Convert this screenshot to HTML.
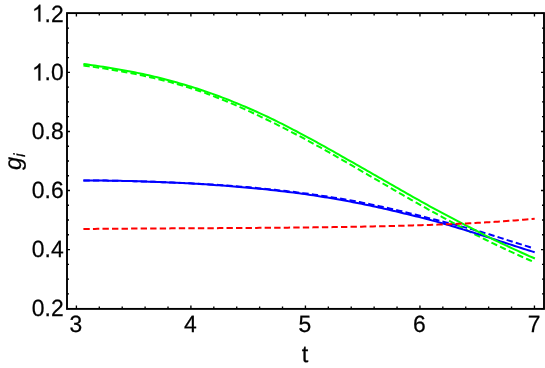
<!DOCTYPE html>
<html><head><meta charset="utf-8"><title>plot</title>
<style>
html,body{margin:0;padding:0;background:#fff;}
.lbl,.lbl text,.lbl tspan{font-family:"Liberation Sans",sans-serif;text-rendering:geometricPrecision;}
body{width:545px;height:368px;overflow:hidden;position:relative;font-family:"Liberation Sans",sans-serif;}
</style></head><body>
<svg width="545" height="368" viewBox="0 0 545 368" style="position:absolute;left:0;top:0">
<rect width="545" height="368" fill="#fff"/>
<g fill="none" stroke-width="2.0" stroke-linejoin="round">
<path d="M83.4,180.38 L86.2,180.40 L89.0,180.42 L91.9,180.44 L94.7,180.47 L97.5,180.50 L100.3,180.53 L103.1,180.57 L105.9,180.60 L108.8,180.65 L111.6,180.69 L114.4,180.75 L117.2,180.80 L120.0,180.86 L122.9,180.92 L125.7,180.98 L128.5,181.05 L131.3,181.12 L134.1,181.20 L136.9,181.27 L139.8,181.36 L142.6,181.44 L145.4,181.53 L148.2,181.63 L151.0,181.72 L153.9,181.82 L156.7,181.92 L159.5,182.03 L162.3,182.13 L165.1,182.23 L167.9,182.34 L170.8,182.45 L173.6,182.57 L176.4,182.69 L179.2,182.81 L182.0,182.93 L184.9,183.06 L187.7,183.19 L190.5,183.33 L193.3,183.47 L196.1,183.62 L198.9,183.77 L201.8,183.93 L204.6,184.10 L207.4,184.26 L210.2,184.44 L213.0,184.61 L215.9,184.79 L218.7,184.98 L221.5,185.17 L224.3,185.37 L227.1,185.57 L229.9,185.77 L232.8,185.98 L235.6,186.20 L238.4,186.42 L241.2,186.65 L244.0,186.88 L246.9,187.12 L249.7,187.36 L252.5,187.61 L255.3,187.87 L258.1,188.13 L260.9,188.40 L263.8,188.67 L266.6,188.95 L269.4,189.23 L272.2,189.52 L275.0,189.82 L277.9,190.12 L280.7,190.43 L283.5,190.75 L286.3,191.07 L289.1,191.40 L291.9,191.73 L294.8,192.08 L297.6,192.43 L300.4,192.78 L303.2,193.15 L306.0,193.52 L308.9,193.90 L311.7,194.28 L314.5,194.68 L317.3,195.08 L320.1,195.48 L323.0,195.90 L325.8,196.32 L328.6,196.74 L331.4,197.18 L334.2,197.62 L337.0,198.07 L339.9,198.53 L342.7,199.01 L345.5,199.49 L348.3,199.99 L351.1,200.50 L354.0,201.02 L356.8,201.55 L359.6,202.09 L362.4,202.65 L365.2,203.21 L368.0,203.78 L370.9,204.36 L373.7,204.95 L376.5,205.55 L379.3,206.16 L382.1,206.78 L385.0,207.41 L387.8,208.04 L390.6,208.69 L393.4,209.34 L396.2,209.99 L399.0,210.66 L401.9,211.33 L404.7,212.02 L407.5,212.71 L410.3,213.40 L413.1,214.09 L416.0,214.79 L418.8,215.50 L421.6,216.21 L424.4,216.92 L427.2,217.64 L430.0,218.36 L432.9,219.09 L435.7,219.82 L438.5,220.55 L441.3,221.25 L444.1,221.95 L447.0,222.65 L449.8,223.37 L452.6,224.11 L455.4,224.85 L458.2,225.60 L461.0,226.35 L463.9,227.10 L466.7,227.86 L469.5,228.63 L472.3,229.41 L475.1,230.19 L478.0,230.99 L480.8,231.80 L483.6,232.63 L486.4,233.47 L489.2,234.32 L492.0,235.19 L494.9,236.07 L497.7,236.97 L500.5,237.87 L503.3,238.78 L506.1,239.68 L509.0,240.59 L511.8,241.49 L514.6,242.38 L517.4,243.27 L520.2,244.16 L523.0,245.04 L525.9,245.91 L528.7,246.78 L531.5,247.64" stroke="#0000ff" stroke-dasharray="6.36 3.18"/>
<path d="M83.4,65.55 L86.2,65.93 L89.1,66.32 L91.9,66.71 L94.7,67.12 L97.5,67.52 L100.4,67.94 L103.2,68.37 L106.0,68.81 L108.8,69.26 L111.7,69.71 L114.5,70.18 L117.3,70.67 L120.1,71.16 L123.0,71.67 L125.8,72.19 L128.6,72.72 L131.4,73.26 L134.3,73.82 L137.1,74.39 L139.9,74.97 L142.7,75.57 L145.6,76.19 L148.4,76.81 L151.2,77.46 L154.0,78.12 L156.9,78.79 L159.7,79.48 L162.5,80.18 L165.3,80.91 L168.2,81.65 L171.0,82.40 L173.8,83.18 L176.7,83.97 L179.5,84.78 L182.3,85.61 L185.1,86.46 L188.0,87.32 L190.8,88.21 L193.6,89.11 L196.4,90.03 L199.3,90.96 L202.1,91.92 L204.9,92.92 L207.7,93.95 L210.6,95.01 L213.4,96.09 L216.2,97.20 L219.0,98.32 L221.9,99.46 L224.7,100.61 L227.5,101.77 L230.3,102.96 L233.2,104.16 L236.0,105.37 L238.8,106.61 L241.6,107.86 L244.5,109.13 L247.3,110.41 L250.1,111.70 L252.9,113.01 L255.8,114.33 L258.6,115.67 L261.4,117.03 L264.3,118.39 L267.1,119.76 L269.9,121.13 L272.7,122.52 L275.6,123.91 L278.4,125.32 L281.2,126.73 L284.0,128.16 L286.9,129.60 L289.7,131.06 L292.5,132.52 L295.3,133.99 L298.2,135.48 L301.0,136.97 L303.8,138.48 L306.6,140.00 L309.5,141.52 L312.3,143.06 L315.1,144.61 L317.9,146.17 L320.8,147.73 L323.6,149.30 L326.4,150.88 L329.2,152.47 L332.1,154.06 L334.9,155.66 L337.7,157.27 L340.5,158.89 L343.4,160.52 L346.2,162.17 L349.0,163.82 L351.8,165.47 L354.7,167.12 L357.5,168.77 L360.3,170.41 L363.2,172.04 L366.0,173.67 L368.8,175.31 L371.6,176.94 L374.5,178.58 L377.3,180.22 L380.1,181.86 L382.9,183.50 L385.8,185.14 L388.6,186.77 L391.4,188.41 L394.2,190.04 L397.1,191.67 L399.9,193.30 L402.7,194.93 L405.5,196.55 L408.4,198.17 L411.2,199.78 L414.0,201.38 L416.8,202.98 L419.7,204.57 L422.5,206.16 L425.3,207.74 L428.1,209.31 L431.0,210.87 L433.8,212.43 L436.6,213.99 L439.4,215.53 L442.3,217.07 L445.1,218.60 L447.9,220.13 L450.8,221.65 L453.6,223.17 L456.4,224.68 L459.2,226.18 L462.1,227.68 L464.9,229.17 L467.7,230.64 L470.5,232.11 L473.4,233.56 L476.2,235.00 L479.0,236.43 L481.8,237.84 L484.7,239.24 L487.5,240.63 L490.3,242.01 L493.1,243.38 L496.0,244.74 L498.8,246.09 L501.6,247.43 L504.4,248.75 L507.3,250.07 L510.1,251.38 L512.9,252.67 L515.7,253.96 L518.6,255.24 L521.4,256.50 L524.2,257.76 L527.0,259.01 L529.9,260.25 L532.7,261.48" stroke="#00ff00" stroke-dasharray="6.36 3.18"/>
<path d="M83.4,180.38 L86.2,180.39 L89.1,180.41 L91.9,180.44 L94.8,180.46 L97.6,180.49 L100.4,180.52 L103.3,180.56 L106.1,180.60 L108.9,180.64 L111.8,180.69 L114.6,180.74 L117.5,180.79 L120.3,180.85 L123.1,180.91 L126.0,180.98 L128.8,181.05 L131.7,181.12 L134.5,181.20 L137.3,181.28 L140.2,181.36 L143.0,181.45 L145.8,181.55 L148.7,181.64 L151.5,181.74 L154.4,181.85 L157.2,181.95 L160.0,182.06 L162.9,182.17 L165.7,182.29 L168.6,182.41 L171.4,182.53 L174.2,182.66 L177.1,182.79 L179.9,182.93 L182.7,183.07 L185.6,183.22 L188.4,183.37 L191.3,183.52 L194.1,183.68 L196.9,183.85 L199.8,184.02 L202.6,184.19 L205.4,184.37 L208.3,184.56 L211.1,184.75 L214.0,184.94 L216.8,185.14 L219.6,185.34 L222.5,185.55 L225.3,185.77 L228.2,185.98 L231.0,186.21 L233.8,186.44 L236.7,186.67 L239.5,186.91 L242.3,187.16 L245.2,187.41 L248.0,187.66 L250.9,187.93 L253.7,188.19 L256.5,188.47 L259.4,188.75 L262.2,189.04 L265.1,189.33 L267.9,189.63 L270.7,189.93 L273.6,190.24 L276.4,190.56 L279.2,190.89 L282.1,191.22 L284.9,191.56 L287.8,191.91 L290.6,192.26 L293.4,192.62 L296.3,192.98 L299.1,193.36 L302.0,193.74 L304.8,194.13 L307.6,194.54 L310.5,194.95 L313.3,195.37 L316.1,195.80 L319.0,196.24 L321.8,196.69 L324.7,197.15 L327.5,197.61 L330.3,198.09 L333.2,198.57 L336.0,199.06 L338.9,199.56 L341.7,200.07 L344.5,200.58 L347.4,201.10 L350.2,201.63 L353.0,202.17 L355.9,202.71 L358.7,203.27 L361.6,203.83 L364.4,204.41 L367.2,204.99 L370.1,205.58 L372.9,206.18 L375.8,206.80 L378.6,207.42 L381.4,208.05 L384.3,208.69 L387.1,209.34 L389.9,210.00 L392.8,210.66 L395.6,211.34 L398.5,212.03 L401.3,212.72 L404.1,213.41 L407.0,214.10 L409.8,214.79 L412.7,215.48 L415.5,216.18 L418.3,216.89 L421.2,217.60 L424.0,218.32 L426.8,219.06 L429.7,219.82 L432.5,220.59 L435.4,221.36 L438.2,222.15 L441.0,222.95 L443.9,223.76 L446.7,224.58 L449.5,225.40 L452.4,226.24 L455.2,227.08 L458.1,227.93 L460.9,228.78 L463.7,229.64 L466.6,230.51 L469.4,231.38 L472.3,232.26 L475.1,233.14 L477.9,234.04 L480.8,234.93 L483.6,235.84 L486.4,236.75 L489.3,237.66 L492.1,238.58 L495.0,239.51 L497.8,240.43 L500.6,241.36 L503.5,242.29 L506.3,243.22 L509.2,244.14 L512.0,245.06 L514.8,245.98 L517.7,246.90 L520.5,247.82 L523.3,248.72 L526.2,249.63 L529.0,250.52 L531.9,251.41 L534.7,252.30" stroke="#0000ff"/>
<path d="M83.4,63.95 L86.2,64.34 L89.1,64.74 L91.9,65.14 L94.8,65.55 L97.6,65.96 L100.4,66.39 L103.3,66.82 L106.1,67.27 L109.0,67.72 L111.8,68.18 L114.6,68.66 L117.5,69.15 L120.3,69.64 L123.2,70.15 L126.0,70.67 L128.8,71.21 L131.7,71.76 L134.5,72.32 L137.4,72.89 L140.2,73.48 L143.0,74.09 L145.9,74.70 L148.7,75.34 L151.6,75.98 L154.4,76.65 L157.2,77.33 L160.1,78.02 L162.9,78.73 L165.7,79.46 L168.6,80.20 L171.4,80.96 L174.3,81.74 L177.1,82.53 L179.9,83.34 L182.8,84.17 L185.6,85.02 L188.5,85.88 L191.3,86.76 L194.1,87.66 L197.0,88.57 L199.8,89.50 L202.7,90.45 L205.5,91.42 L208.3,92.41 L211.2,93.41 L214.0,94.43 L216.9,95.47 L219.7,96.52 L222.5,97.59 L225.4,98.68 L228.2,99.79 L231.1,100.92 L233.9,102.06 L236.7,103.21 L239.6,104.39 L242.4,105.58 L245.3,106.79 L248.1,108.01 L250.9,109.25 L253.8,110.51 L256.6,111.78 L259.5,113.07 L262.3,114.37 L265.1,115.69 L268.0,117.02 L270.8,118.37 L273.7,119.74 L276.5,121.12 L279.3,122.52 L282.2,123.94 L285.0,125.38 L287.9,126.83 L290.7,128.29 L293.5,129.77 L296.4,131.26 L299.2,132.77 L302.1,134.28 L304.9,135.81 L307.7,137.34 L310.6,138.88 L313.4,140.43 L316.2,141.98 L319.1,143.55 L321.9,145.12 L324.8,146.70 L327.6,148.29 L330.4,149.88 L333.3,151.48 L336.1,153.09 L339.0,154.69 L341.8,156.30 L344.6,157.91 L347.5,159.51 L350.3,161.12 L353.2,162.73 L356.0,164.34 L358.8,165.96 L361.7,167.58 L364.5,169.20 L367.4,170.83 L370.2,172.45 L373.0,174.08 L375.9,175.71 L378.7,177.33 L381.6,178.96 L384.4,180.59 L387.2,182.21 L390.1,183.84 L392.9,185.46 L395.8,187.08 L398.6,188.70 L401.4,190.32 L404.3,191.93 L407.1,193.54 L410.0,195.15 L412.8,196.76 L415.6,198.36 L418.5,199.95 L421.3,201.54 L424.2,203.12 L427.0,204.70 L429.8,206.27 L432.7,207.83 L435.5,209.39 L438.4,210.93 L441.2,212.46 L444.0,213.98 L446.9,215.48 L449.7,216.96 L452.6,218.44 L455.4,219.91 L458.2,221.37 L461.1,222.84 L463.9,224.31 L466.7,225.78 L469.6,227.26 L472.4,228.73 L475.3,230.21 L478.1,231.67 L480.9,233.13 L483.8,234.58 L486.6,236.02 L489.5,237.45 L492.3,238.86 L495.1,240.25 L498.0,241.63 L500.8,242.99 L503.7,244.35 L506.5,245.69 L509.3,247.02 L512.2,248.34 L515.0,249.65 L517.9,250.95 L520.7,252.24 L523.5,253.52 L526.4,254.79 L529.2,256.05 L532.1,257.29 L534.9,258.53" stroke="#00ff00"/>
<path d="M83.4,228.99 L86.2,228.97 L89.1,228.94 L91.9,228.92 L94.8,228.89 L97.6,228.87 L100.4,228.85 L103.3,228.83 L106.1,228.80 L108.9,228.78 L111.8,228.76 L114.6,228.74 L117.5,228.72 L120.3,228.70 L123.1,228.68 L126.0,228.66 L128.8,228.64 L131.7,228.62 L134.5,228.60 L137.3,228.58 L140.2,228.56 L143.0,228.54 L145.8,228.52 L148.7,228.50 L151.5,228.49 L154.4,228.47 L157.2,228.45 L160.0,228.44 L162.9,228.42 L165.7,228.40 L168.6,228.39 L171.4,228.37 L174.2,228.35 L177.1,228.34 L179.9,228.32 L182.7,228.31 L185.6,228.29 L188.4,228.28 L191.3,228.26 L194.1,228.25 L196.9,228.23 L199.8,228.22 L202.6,228.20 L205.4,228.19 L208.3,228.17 L211.1,228.16 L214.0,228.14 L216.8,228.13 L219.6,228.11 L222.5,228.10 L225.3,228.08 L228.2,228.07 L231.0,228.05 L233.8,228.03 L236.7,228.02 L239.5,228.00 L242.3,227.98 L245.2,227.96 L248.0,227.95 L250.9,227.93 L253.7,227.91 L256.5,227.89 L259.4,227.87 L262.2,227.85 L265.1,227.83 L267.9,227.81 L270.7,227.78 L273.6,227.76 L276.4,227.74 L279.2,227.71 L282.1,227.69 L284.9,227.67 L287.8,227.64 L290.6,227.61 L293.4,227.59 L296.3,227.56 L299.1,227.53 L302.0,227.50 L304.8,227.47 L307.6,227.44 L310.5,227.41 L313.3,227.37 L316.1,227.34 L319.0,227.30 L321.8,227.27 L324.7,227.23 L327.5,227.19 L330.3,227.15 L333.2,227.11 L336.0,227.07 L338.9,227.03 L341.7,226.99 L344.5,226.94 L347.4,226.89 L350.2,226.85 L353.0,226.80 L355.9,226.75 L358.7,226.70 L361.6,226.64 L364.4,226.59 L367.2,226.53 L370.1,226.47 L372.9,226.42 L375.8,226.35 L378.6,226.29 L381.4,226.23 L384.3,226.16 L387.1,226.09 L389.9,226.02 L392.8,225.95 L395.6,225.88 L398.5,225.80 L401.3,225.73 L404.1,225.65 L407.0,225.57 L409.8,225.49 L412.7,225.41 L415.5,225.33 L418.3,225.25 L421.2,225.16 L424.0,225.08 L426.8,224.99 L429.7,224.90 L432.5,224.80 L435.4,224.70 L438.2,224.60 L441.0,224.50 L443.9,224.39 L446.7,224.27 L449.5,224.16 L452.4,224.03 L455.2,223.91 L458.1,223.78 L460.9,223.65 L463.7,223.51 L466.6,223.38 L469.4,223.24 L472.3,223.09 L475.1,222.94 L477.9,222.79 L480.8,222.64 L483.6,222.48 L486.4,222.32 L489.3,222.16 L492.1,221.99 L495.0,221.81 L497.8,221.64 L500.6,221.45 L503.5,221.26 L506.3,221.06 L509.2,220.86 L512.0,220.65 L514.8,220.44 L517.7,220.22 L520.5,219.99 L523.3,219.76 L526.2,219.52 L529.0,219.28 L531.9,219.03 L534.7,218.78" stroke="#ff0000" stroke-dasharray="6.36 3.18"/>
</g>
<rect x="67.0" y="13.1" width="477.0" height="295.79999999999995" fill="none" stroke="#000" stroke-width="1.9"/>
<path d="M76.40,308.9v-3.5M76.40,13.1v3.5M99.30,308.9v-2.3M99.30,13.1v2.3M122.21,308.9v-2.3M122.21,13.1v2.3M145.11,308.9v-2.3M145.11,13.1v2.3M168.01,308.9v-2.3M168.01,13.1v2.3M190.91,308.9v-3.5M190.91,13.1v3.5M213.82,308.9v-2.3M213.82,13.1v2.3M236.72,308.9v-2.3M236.72,13.1v2.3M259.62,308.9v-2.3M259.62,13.1v2.3M282.52,308.9v-2.3M282.52,13.1v2.3M305.43,308.9v-3.5M305.43,13.1v3.5M328.33,308.9v-2.3M328.33,13.1v2.3M351.23,308.9v-2.3M351.23,13.1v2.3M374.13,308.9v-2.3M374.13,13.1v2.3M397.04,308.9v-2.3M397.04,13.1v2.3M419.94,308.9v-3.5M419.94,13.1v3.5M442.84,308.9v-2.3M442.84,13.1v2.3M465.74,308.9v-2.3M465.74,13.1v2.3M488.64,308.9v-2.3M488.64,13.1v2.3M511.55,308.9v-2.3M511.55,13.1v2.3M534.45,308.9v-3.5M534.45,13.1v3.5M67.0,308.60h3.0M544.0,308.60h-3.0M67.0,293.84h2.0M544.0,293.84h-2.0M67.0,279.07h2.0M544.0,279.07h-2.0M67.0,264.31h2.0M544.0,264.31h-2.0M67.0,249.55h3.0M544.0,249.55h-3.0M67.0,234.79h2.0M544.0,234.79h-2.0M67.0,220.03h2.0M544.0,220.03h-2.0M67.0,205.26h2.0M544.0,205.26h-2.0M67.0,190.50h3.0M544.0,190.50h-3.0M67.0,175.74h2.0M544.0,175.74h-2.0M67.0,160.98h2.0M544.0,160.98h-2.0M67.0,146.21h2.0M544.0,146.21h-2.0M67.0,131.45h3.0M544.0,131.45h-3.0M67.0,116.69h2.0M544.0,116.69h-2.0M67.0,101.92h2.0M544.0,101.92h-2.0M67.0,87.16h2.0M544.0,87.16h-2.0M67.0,72.40h3.0M544.0,72.40h-3.0M67.0,57.64h2.0M544.0,57.64h-2.0M67.0,42.88h2.0M544.0,42.88h-2.0M67.0,28.11h2.0M544.0,28.11h-2.0M67.0,13.35h3.0M544.0,13.35h-3.0" stroke="#000" stroke-width="1.35" fill="none"/>
<g class="lbl" font-size="23.5" fill="#000" stroke="#000" stroke-width="0.25" opacity="0.999">
<text transform="translate(75.95,331.6) scale(0.975,1)" text-anchor="middle">3</text>
<text transform="translate(190.46,331.6) scale(0.975,1)" text-anchor="middle">4</text>
<text transform="translate(304.98,331.6) scale(0.975,1)" text-anchor="middle">5</text>
<text transform="translate(419.49,331.6) scale(0.975,1)" text-anchor="middle">6</text>
<text transform="translate(534.00,331.6) scale(0.975,1)" text-anchor="middle">7</text>
<text transform="translate(63.7,316.10) scale(0.975,1)" text-anchor="end">0.2</text>
<text transform="translate(63.7,257.19) scale(0.975,1)" text-anchor="end">0.4</text>
<text transform="translate(63.7,198.28) scale(0.975,1)" text-anchor="end">0.6</text>
<text transform="translate(63.7,139.37) scale(0.975,1)" text-anchor="end">0.8</text>
<path transform="translate(31.85,80.46) scale(0.011188,-0.011475)" d="M763 0H583V1147Q518 1085 412.5 1023Q307 961 223 930V1104Q374 1175 487 1276Q600 1377 647 1472H763Z" stroke-width="21.8"/>
<text transform="translate(63.7,80.46) scale(0.975,1)" text-anchor="end">.0</text>
<path transform="translate(31.85,21.55) scale(0.011188,-0.011475)" d="M763 0H583V1147Q518 1085 412.5 1023Q307 961 223 930V1104Q374 1175 487 1276Q600 1377 647 1472H763Z" stroke-width="21.8"/>
<text transform="translate(63.7,21.55) scale(0.975,1)" text-anchor="end">.2</text>
<text x="305.1" y="362.1" text-anchor="middle">t</text>
<text transform="translate(20.5,170.0) rotate(-90)" font-style="italic">g<tspan font-size="16.1" dy="4.2">i</tspan></text>
</g>
</svg>
</body></html>
